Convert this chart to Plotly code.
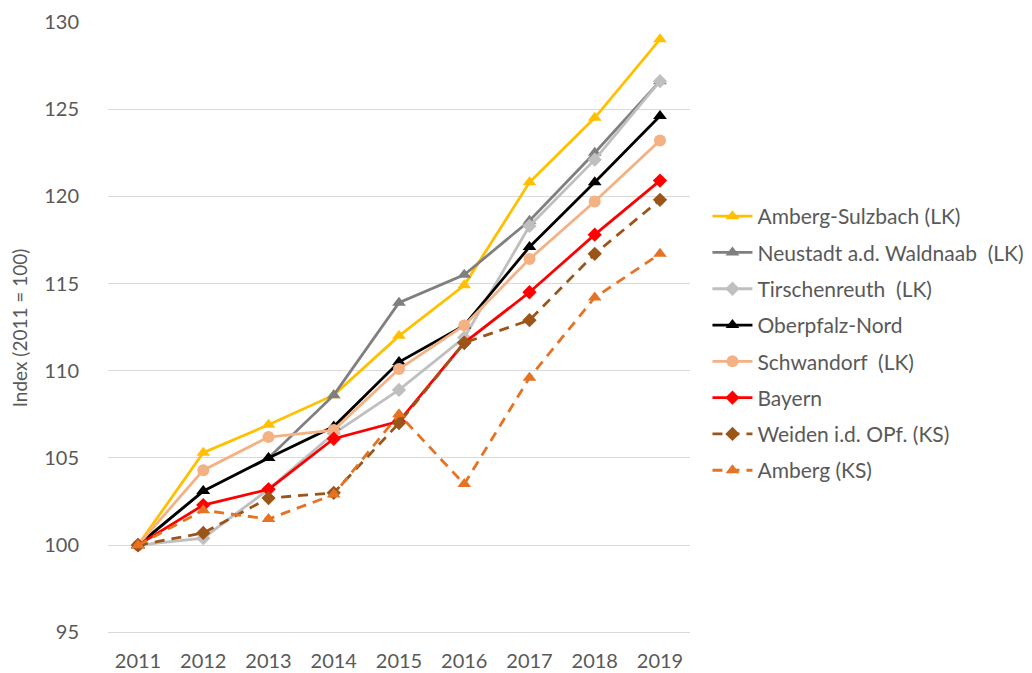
import plotly.graph_objects as go

years = ["2011", "2012", "2013", "2014", "2015", "2016", "2017", "2018", "2019"]

amberg_sulzbach = [100, 105.3, 106.9, 108.6, 112.0, 114.9, 120.8, 124.5, 129.0]
neustadt = [100, 103.1, 105.0, 108.6, 113.9, 115.5, 118.6, 122.5, 126.6]
tirschenreuth = [100, 100.4, 103.2, 106.4, 108.9, 111.9, 118.3, 122.1, 126.6]
oberpfalz_nord = [100, 103.1, 105.0, 106.8, 110.5, 112.6, 117.1, 120.8, 124.6]
schwandorf = [100, 104.3, 106.2, 106.6, 110.1, 112.6, 116.4, 119.7, 123.2]
bayern = [100, 102.3, 103.2, 106.1, 107.1, 111.6, 114.5, 117.8, 120.9]
weiden = [100, 100.7, 102.7, 103.0, 107.0, 111.6, 112.9, 116.7, 119.8]
amberg = [100, 102.0, 101.5, 102.9, 107.5, 103.5, 109.6, 114.2, 116.7]

series = [
    ("Amberg-Sulzbach (LK)", amberg_sulzbach, "#FFC000", "triangle-up", "solid"),
    ("Neustadt a.d. Waldnaab  (LK)", neustadt, "#7F7F7F", "triangle-up", "solid"),
    ("Tirschenreuth  (LK)", tirschenreuth, "#BFBFBF", "diamond", "solid"),
    ("Oberpfalz-Nord", oberpfalz_nord, "#000000", "triangle-up", "solid"),
    ("Schwandorf  (LK)", schwandorf, "#F4B183", "circle", "solid"),
    ("Bayern", bayern, "#FF0000", "diamond", "solid"),
    ("Weiden i.d. OPf. (KS)", weiden, "#9C5518", "diamond", "dash"),
    ("Amberg (KS)", amberg, "#E67324", "triangle-up", "dash"),
]

fig = go.Figure()
for i, (name, vals, col, sym, dash) in enumerate(series):
    fig.add_trace(go.Scatter(
        x=years, y=vals, name=name, mode="lines+markers",
        line=dict(color=col, width=2.8, dash="10px,7px" if dash == "dash" else "solid"),
        marker=dict(symbol=sym, size=12 if sym != "diamond" else 11, color=col),
        legendgroup=str(i),
    ))

# page body adds 8px offset, margins are compensated for it
fig.update_layout(
    width=1032, height=673,
    paper_bgcolor="white", plot_bgcolor="white",
    margin=dict(l=100, r=350, t=13, b=46, autoexpand=False),
    font=dict(family="Lato, Open Sans, sans-serif", color="#595959", size=20),
    legend=dict(x=1.03, xanchor="left", y=0.715, yanchor="top",
                font=dict(size=21, color="#595959"),
                tracegroupgap=6, itemwidth=40),
    showlegend=True,
)
fig.update_xaxes(type="category", range=[-0.46, 8.46], showgrid=False,
                 showline=False, ticks="", tickfont=dict(size=20), ticklabelstandoff=12)
fig.update_yaxes(range=[94.85, 130.05], dtick=5, tick0=95, showgrid=True, gridcolor="#D9D9D9",
                 gridwidth=1, zeroline=False, showline=False, ticks="",
                 tickfont=dict(size=20), ticklabelstandoff=28,
                 title=dict(text="Index (2011 = 100)", font=dict(size=19), standoff=13))

fig.write_html("out.html")
